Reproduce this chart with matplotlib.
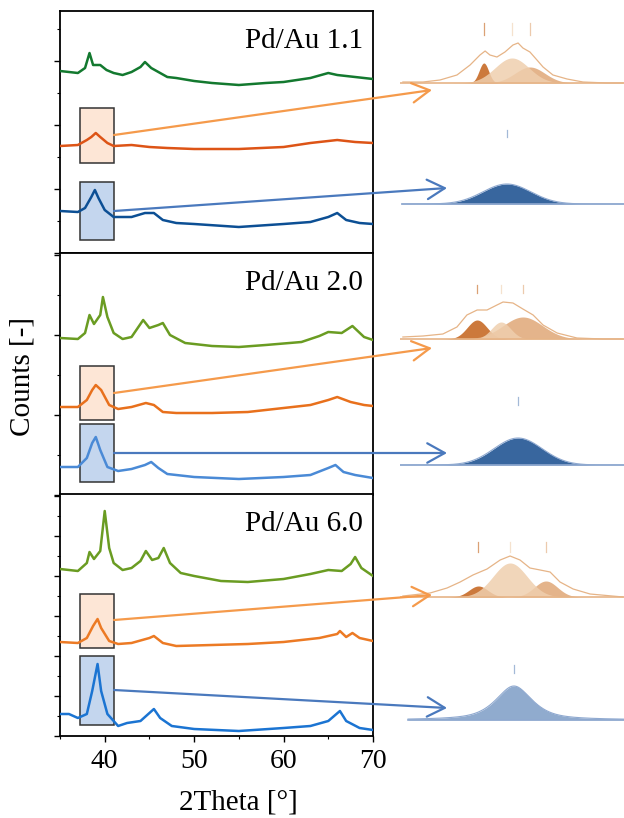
import numpy as np
import matplotlib.pyplot as plt
from matplotlib.patches import Rectangle, ConnectionPatch
from matplotlib.ticker import MultipleLocator

plt.rcParams['font.family'] = ['Liberation Serif', 'DejaVu Serif']

# --- XRD scans (2Theta in deg, counts with stacking offset) ---
x_11_green = [35, 37, 37.8, 38.3, 38.7, 39.5, 40.2, 41, 42, 43, 44, 44.5, 45.2, 46, 47, 48,
              50, 52, 55, 58, 60, 63, 65, 66, 68, 70]
y_11_green = [182, 180, 185, 200, 188, 188, 183, 180, 178, 181, 186, 191, 185, 181, 176, 175,
              172, 170, 168, 170, 171, 175, 180, 178, 176, 174]
x_11_orange = [35, 37, 38, 38.5, 39, 39.5, 40.3, 41, 43, 45, 47, 50, 55, 60, 63, 66, 68, 70]
y_11_orange = [107, 108, 113, 116, 120, 116, 110, 107, 108, 106, 105, 104, 104, 106, 110, 113, 111, 110]
x_11_blue = [35, 37, 37.8, 38.5, 38.9, 39.3, 40, 41, 43, 44.5, 45.5, 46.5, 48, 50, 55, 60,
             63, 65, 66, 67, 68.5, 70]
y_11_blue = [42, 41, 45, 56, 63, 55, 43, 36, 36, 40, 40, 33, 30, 29, 26, 29,
             31, 36, 40, 33, 30, 29]

x_20_green = [35, 37, 37.8, 38.3, 38.8, 39.5, 39.8, 40.3, 41, 42, 43, 44.3, 45, 46, 46.5, 47.3,
              49, 52, 55, 58, 62, 64, 65, 66.5, 67.7, 69, 70]
y_20_green = [157, 156, 162, 180, 171, 180, 198, 178, 162, 156, 158, 175, 167, 170, 172, 160,
              152, 149, 148, 150, 153, 159, 163, 162, 169, 158, 155]
x_20_orange = [35, 37, 38, 38.6, 39, 39.6, 40.5, 41.5, 43, 44.6, 45.5, 46.5, 48, 52, 56, 60,
               63, 65, 66, 67.5, 69, 70]
y_20_orange = [88, 88, 95, 105, 110, 105, 90, 86, 88, 92, 90, 83, 82, 82, 83, 87,
               90, 95, 98, 93, 90, 89]
x_20_blue = [35, 37, 38, 38.6, 39, 39.5, 40.3, 41.5, 43, 44.5, 45.2, 46, 47, 50, 55, 60,
             63, 65, 65.8, 66.7, 68, 70]
y_20_blue = [28, 28, 37, 52, 58, 45, 28, 24, 26, 30, 33, 27, 21, 18, 16, 18,
             20, 27, 30, 23, 20, 17]

x_60_green = [35, 37, 38, 38.3, 38.8, 39.5, 40, 40.5, 41, 42, 43, 44, 44.6, 45.3, 46, 46.6,
              47.3, 48.5, 50, 53, 56, 60, 63, 65, 66.5, 67.5, 68, 68.7, 70]
y_60_green = [167, 165, 173, 184, 177, 185, 225, 188, 173, 166, 168, 175, 185, 176, 178, 188,
              173, 163, 160, 155, 154, 157, 162, 166, 165, 172, 179, 168, 160]
x_60_orange = [35, 37, 38, 38.7, 39.2, 39.6, 40.5, 41.5, 43, 45, 45.5, 46.5, 48, 52, 56, 60,
               64, 66, 66.3, 67, 67.7, 68.5, 70]
y_60_orange = [94, 93, 98, 110, 117, 108, 95, 92, 93, 98, 100, 93, 90, 91, 92, 94,
               98, 102, 105, 99, 103, 98, 95]
x_60_blue = [35, 36, 37, 38, 38.6, 39.2, 39.6, 40.3, 41, 41.5, 42.5, 44, 45, 45.5, 46.2, 47.5,
             50, 55, 60, 63, 65, 66.3, 67, 68.5, 70]
y_60_blue = [22, 22, 18, 22, 45, 72, 45, 22, 15, 10, 13, 15, 23, 27, 18, 10,
             7, 5, 8, 10, 15, 25, 15, 8, 6]

labels = ["Pd/Au 1.1", "Pd/Au 2.0", "Pd/Au 6.0"]

# --- peak deconvolution of the 38-41 deg region ---
# orange samples: three components (centre, height, fwhm)
fit_o_center = [[38.62, 39.5, 40.06], [38.41, 39.16, 39.84], [38.45, 39.44, 40.56]]
fit_o_height = [[20, 25, 16], [19, 17, 22], [11, 34, 16]]
fit_o_fwhm = [[0.35, 1.25, 1.1], [0.73, 0.7, 1.45], [0.7, 1.25, 0.85]]
raw_o_x = [
    [36.09, 36.72, 37.25, 37.78, 38.19, 38.5, 38.66, 38.81, 39.03, 39.28, 39.53, 39.69, 39.84,
     40.06, 40.28, 40.47, 40.78, 41.22, 41.72, 42.47, 42.97],
    [36.09, 36.72, 37.34, 37.78, 38.09, 38.41, 38.72, 39.03, 39.22, 39.53, 39.84, 40.16, 40.47,
     40.91, 41.53, 42.34, 42.97],
    [36.09, 36.94, 37.47, 37.88, 38.28, 38.72, 39.13, 39.44, 39.75, 40.06, 40.38, 40.69, 41.0,
     41.41, 41.94, 42.97],
]
raw_o_y = [
    [1, 1, 3, 8, 18, 28, 32, 28, 26, 31, 38, 40, 35, 31, 23, 16, 8, 4, 1, 0, 0],
    [2, 3, 5, 12, 24, 29, 29, 34, 37, 36, 30, 24, 14, 6, 1, 0, 0],
    [1, 4, 9, 15, 22, 28, 37, 41, 37, 29, 27, 25, 15, 8, 3, 0],
]
# blue samples: single component (centre, height, fwhm, lorentz fraction)
fit_b_center = [39.34, 39.69, 39.56]
fit_b_height = [20, 27, 34]
fit_b_fwhm = [1.77, 1.77, 1.35]
fit_b_eta = [0.0, 0.0, 0.7]
fit_b_start = [36.06, 36.0, 36.25]

# styling
green_c = ['#13792f', '#6a9c22', '#6a9c22']
orange_c = ['#dd5416', '#e8701c', '#ec7a24']
blue_c = ['#0c4f94', '#4a8ad6', '#1b74d2']
comp_c = ['#c4621a', '#efcfae', '#e0a777']
comp_order = [1, 0, 2]
fitb_c = ['#2d5e99', '#2d5e99', '#7d9cc6']

W, H = 624, 818
fig = plt.figure(figsize=(W / 100, H / 100), dpi=100)


def fig_rect(left, top, right, bottom):
    return [left / W, 1 - bottom / H, (right - left) / W, (bottom - top) / H]


def profile(x, c, h, w, eta=0.0):
    g = np.exp(-4 * np.log(2) * ((x - c) / w) ** 2)
    l = 1 / (1 + 4 * ((x - c) / w) ** 2)
    return h * ((1 - eta) * g + eta * l)


panel_tops = [11, 253, 494]
major_step = [64, 80, 40]
box_o = [(90, 145), (75, 129), (88, 142)]
box_b = [(13, 71), (13, 71), (11, 80)]
arrow_o = [(118, -7), (102, -9), (116, 2)]
arrow_b = [(42, 16), (42, 12), (46, 12)]
base_o = [83, 339, 597]
base_b = [204, 465, 720]
mark_o = [(48, 60), (46, 54), (45, 55)]
mark_b = [(67, 74), (60, 68), (47, 55)]

scans = [
    [(x_11_green, y_11_green), (x_11_orange, y_11_orange), (x_11_blue, y_11_blue)],
    [(x_20_green, y_20_green), (x_20_orange, y_20_orange), (x_20_blue, y_20_blue)],
    [(x_60_green, y_60_green), (x_60_orange, y_60_orange), (x_60_blue, y_60_blue)],
]

xf = np.linspace(36, 43, 600)

for i in range(3):
    ax = fig.add_axes(fig_rect(60, panel_tops[i], 373, panel_tops[i] + 242))
    ax.set_xlim(35, 70)
    ax.set_ylim(0, 242)
    (xg, yg), (xo, yo), (xb, yb) = scans[i]
    ax.plot(xg, yg, color=green_c[i], lw=1.8, zorder=3)
    ax.plot(xo, yo, color=orange_c[i], lw=1.8, zorder=3)
    ax.plot(xb, yb, color=blue_c[i], lw=1.8, zorder=3)

    ax.add_patch(Rectangle((37.24, box_o[i][0]), 3.8, box_o[i][1] - box_o[i][0],
                           facecolor='#fde6d6', edgecolor='#333333', lw=1.1, zorder=1))
    ax.add_patch(Rectangle((37.24, box_b[i][0]), 3.8, box_b[i][1] - box_b[i][0],
                           facecolor='#c4d6ee', edgecolor='#333333', lw=1.1, zorder=1))

    ax.text(0.968, 0.875, labels[i], transform=ax.transAxes, ha='right', va='center',
            fontsize=21)

    ax.yaxis.set_major_locator(MultipleLocator(major_step[i]))
    ax.yaxis.set_minor_locator(MultipleLocator(major_step[i] / 2))
    ax.tick_params(axis='y', which='major', direction='out', length=4, width=1, labelleft=False)
    ax.tick_params(axis='y', which='minor', direction='out', length=2.5, width=0.8)
    ax.xaxis.set_major_locator(MultipleLocator(10))
    ax.xaxis.set_minor_locator(MultipleLocator(5))
    if i < 2:
        ax.tick_params(axis='x', which='both', bottom=False, labelbottom=False)
    else:
        ax.tick_params(axis='x', which='major', direction='out', length=4, width=1,
                       labelsize=20, pad=5)
        ax.tick_params(axis='x', which='minor', direction='out', length=2.5, width=0.8)
    for s in ax.spines.values():
        s.set_linewidth(1.3)

    # orange deconvolution
    axo = fig.add_axes(fig_rect(400, base_o[i] - 80, 624, base_o[i] + 10))
    axo.set_xlim(36, 43)
    axo.set_ylim(-10, 80)
    axo.axis('off')
    axo.plot(raw_o_x[i], raw_o_y[i], color='#e6b487', lw=0.9, zorder=4)
    axo.plot([36, 43], [0, 0], color='#e6b487', lw=1.2, zorder=4)
    for k in comp_order:
        yk = profile(xf, fit_o_center[i][k], fit_o_height[i][k], fit_o_fwhm[i][k])
        axo.fill_between(xf, 0, yk, color=comp_c[k], alpha=0.85, lw=0, zorder=2 + k % 2)
        axo.plot([fit_o_center[i][k]] * 2, mark_o[i], color=comp_c[k], lw=0.9, alpha=0.6)

    # blue deconvolution
    axb = fig.add_axes(fig_rect(400, base_b[i] - 80, 624, base_b[i] + 10))
    axb.set_xlim(36, 43)
    axb.set_ylim(-10, 80)
    axb.axis('off')
    xb_f = np.linspace(fit_b_start[i], 43, 600)
    yb_f = profile(xb_f, fit_b_center[i], fit_b_height[i], fit_b_fwhm[i], fit_b_eta[i])
    axb.fill_between(xb_f, 0, yb_f, color=fitb_c[i], alpha=0.95 if i < 2 else 0.85, lw=0)
    axb.plot(xb_f, yb_f, color='#8fa9d0', lw=0.8)
    axb.plot([fit_b_start[i], 43], [0, 0], color='#8fa9d0', lw=1.2)
    axb.plot([fit_b_center[i]] * 2, mark_b[i], color='#7d9cc6', lw=0.9, alpha=0.7)

    # arrows from the highlighted region to its deconvolution
    for (ys, (ye_x, ye_y)), axi, col in [
        ((arrow_o[i][0], (37.0, arrow_o[i][1])), axo, '#f59a4b'),
        ((arrow_b[i][0], (37.47, arrow_b[i][1])), axb, '#4a79bd'),
    ]:
        con = ConnectionPatch(xyA=(41.04, ys), coordsA=ax.transData,
                              xyB=(ye_x, ye_y), coordsB=axi.transData,
                              arrowstyle='->,head_length=0.9,head_width=0.5',
                              mutation_scale=14, color=col, lw=1.6, zorder=10)
        fig.add_artist(con)

fig.text(238 / W, 1 - 803 / H, '2Theta [°]', ha='center', va='center', fontsize=21)
fig.text(22 / W, 1 - 376 / H, 'Counts [-]', ha='center', va='center', rotation=90, fontsize=21)

fig.savefig('out.png', dpi=100)
